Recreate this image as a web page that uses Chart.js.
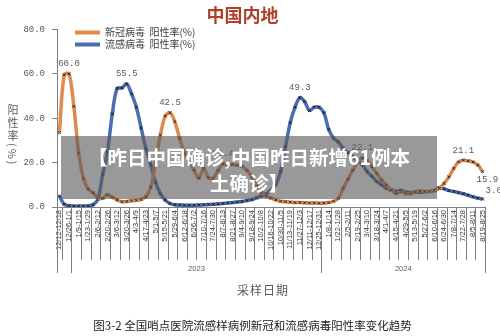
<!DOCTYPE html>
<html>
<head>
<meta charset="utf-8">
<script src="https://cdn.jsdelivr.net/npm/chart.js@4.4.1/dist/chart.umd.min.js"></script>
<style>
body { margin: 0; background: #fff; }
#wrap { position: relative; width: 500px; height: 336px; overflow: hidden; }
#ytitle { position: absolute; left: 5px; top: 104px; writing-mode: vertical-rl; font: 11px 'Noto Sans CJK SC', sans-serif; color: #595959; letter-spacing: 2px; }
#xtitle { position: absolute; left: 237px; top: 281px; font: 12px 'Noto Sans CJK SC', sans-serif; color: #595959; letter-spacing: 1px; }
#banner { position: absolute; left: 61px; top: 136px; width: 376px; height: 63px; background: rgba(90, 90, 90, 0.62); color: #fff; font: bold 19.5px 'Noto Sans CJK SC', sans-serif; line-height: 26px; text-align: center; padding-top: 8px; box-sizing: border-box; }
#caption { position: absolute; left: 0; width: 505px; top: 317px; text-align: center; font: 11.5px 'Noto Sans CJK SC', sans-serif; color: #222; }
</style>
</head>
<body>
<div id="wrap">
  <canvas id="myChart" width="500" height="336"></canvas>
  <div id="ytitle">阳性率(%)</div>
  <div id="xtitle">采样日期</div>
  <div id="banner">【昨日中国确诊,中国昨日新增61例本<br>土确诊】</div>
  <div id="caption">图3-2 全国哨点医院流感样病例新冠和流感病毒阳性率变化趋势</div>
</div>
<script>
// weekly sampling periods, 2022-12-12 .. 2024-08-25
var weeks = [
  "12/12-12/18","12/19-12/25","12/26-1/1","1/2-1/8","1/9-1/15","1/16-1/22","1/23-1/29","1/30-2/5",
  "2/6-2/12","2/13-2/19","2/20-2/26","2/27-3/5","3/6-3/12","3/13-3/19","3/20-3/26","3/27-4/2",
  "4/3-4/9","4/10-4/16","4/17-4/23","4/24-4/30","5/1-5/7","5/8-5/14","5/15-5/21","5/22-5/28",
  "5/29-6/4","6/5-6/11","6/12-6/18","6/19-6/25","6/26-7/2","7/3-7/9","7/10-7/16","7/17-7/23",
  "7/24-7/30","7/31-8/6","8/7-8/13","8/14-8/20","8/21-8/27","8/28-9/3","9/4-9/10","9/11-9/17",
  "9/18-9/24","9/25-10/1","10/2-10/8","10/9-10/15","10/16-10/22","10/23-10/29","10/30-11/5","11/6-11/12",
  "11/13-11/19","11/20-11/26","11/27-12/3","12/4-12/10","12/11-12/17","12/18-12/24","12/25-12/31","1/1-1/7",
  "1/8-1/14","1/15-1/21","1/22-1/28","1/29-2/4","2/5-2/11","2/12-2/18","2/19-2/25","2/26-3/3",
  "3/4-3/10","3/11-3/17","3/18-3/24","3/25-3/31","4/1-4/7","4/8-4/14","4/15-4/21","4/22-4/28",
  "4/29-5/5","5/6-5/12","5/13-5/19","5/20-5/26","5/27-6/2","6/3-6/9","6/10-6/16","6/17-6/23",
  "6/24-6/30","7/1-7/7","7/8-7/14","7/15-7/21","7/22-7/28","7/29-8/4","8/5-8/11","8/12-8/18",
  "8/19-8/25"
];

// 新冠病毒 阳性率(%)
var covid = [
  33.5, 59.6, 60.0, 45.4, 24.4, 12.9, 8.1, 6.4, 4.2, 3.9,
  5.5, 4.4, 3.2, 2.4, 2.5, 2.8, 3.0, 3.4, 4.6, 9.0,
  20.5, 32.5, 41.0, 42.5, 38.5, 31.0, 24.5, 20.5, 16.6, 13.0,
  17.4, 13.2, 13.0, 16.5, 19.4, 18.9, 19.2, 18.8, 18.4, 16.5,
  13.5, 9.5, 6.5, 5.0, 4.0, 3.2, 2.6, 2.4, 2.2, 2.0,
  2.0, 1.9, 1.8, 1.8, 1.7, 1.8, 2.0, 2.6, 3.9, 8.4,
  12.5, 16.5, 20.0, 22.1, 21.0, 18.1, 15.1, 12.1, 9.9, 7.6,
  6.1, 6.9, 6.1, 6.0, 6.8, 7.2, 7.0, 7.0, 7.3, 8.4,
  10.6, 13.6, 17.4, 20.3, 21.1, 20.8, 20.3, 18.9, 15.9
];

// 流感病毒 阳性率(%)
var flu = [
  5.0, 1.2, 0.6, 0.4, 0.4, 0.4, 0.5, 1.0, 3.5, 14.7,
  25.0, 42.0, 53.5, 53.7, 55.5, 51.0, 45.0, 35.6, 26.3, 19.0,
  11.0, 6.0, 3.1, 1.6, 1.0, 0.9, 0.8, 0.8, 0.8, 0.9,
  1.0, 1.1, 1.2, 1.4, 1.6, 1.8, 2.0, 2.3, 2.5, 2.9,
  3.3, 4.1, 5.0, 6.0, 7.5, 10.0, 16.0, 27.0, 38.0, 45.0,
  49.3, 47.5, 43.5, 45.0, 45.0, 42.5, 35.0, 31.0, 29.3, 26.5,
  24.5, 22.8, 21.0, 19.0, 16.0, 13.8, 11.5, 10.0, 8.5, 7.7,
  7.0, 7.5, 6.8, 6.5, 6.8, 6.6, 6.9, 7.0, 7.5, 8.8,
  8.2, 7.4, 7.0, 6.5, 6.0, 5.3, 4.6, 4.0, 3.6
];

// points carrying a value label
var covidLabelAt = [2, 23, 34, 63, 84, 88];
var fluLabelAt = [14, 50, 88];

var yTicks = [0, 20, 40, 60, 80];

// year groups on the category axis: [label, first week, end (exclusive)]
var years = [["2023", 3, 55], ["2024", 55, 89]];

var orange = '#E08A4E';
var blue = '#4A6DB3';

var valueLabels = {
  id: 'valueLabels',
  afterDatasetsDraw: function(chart) {
    var ctx = chart.ctx;
    ctx.save();
    ctx.font = "9px 'Liberation Mono', monospace";
    ctx.fillStyle = '#595959';
    ctx.textBaseline = 'middle';
    var last = weeks.length - 1;
    [[0, covid, covidLabelAt], [1, flu, fluLabelAt]].forEach(function(s) {
      var pts = chart.getDatasetMeta(s[0]).data;
      s[2].forEach(function(i) {
        var p = pts[i];
        var txt = s[1][i].toFixed(1);
        if (i === last) {
          ctx.textAlign = 'left';
          if (s[0] === 0) ctx.fillText(txt, p.x - 6, p.y + 8);
          else ctx.fillText(txt, p.x + 3, p.y - 8);
        } else {
          ctx.textAlign = 'center';
          ctx.fillText(txt, p.x, p.y - 10);
        }
      });
    });
    ctx.restore();
  }
};

// cell lines and year groups below the category axis
var axisCells = {
  id: 'axisCells',
  afterDraw: function(chart) {
    var x = chart.scales.x;
    var ctx = chart.ctx;
    var bottom = chart.chartArea.bottom;
    var half = (x.getPixelForValue(1) - x.getPixelForValue(0)) / 2;
    var edge = function(b) { return x.getPixelForValue(b) - half; };
    var longOnes = [0, weeks.length];
    years.forEach(function(y) { longOnes.push(y[1]); });
    ctx.save();
    ctx.strokeStyle = '#7f7f7f';
    ctx.lineWidth = 1;
    for (var b = 0; b <= weeks.length; b++) {
      var isLong = longOnes.indexOf(b) >= 0;
      if (!isLong && b % 2 === 0) continue;
      var px = Math.round(edge(b)) + 0.5;
      ctx.beginPath();
      ctx.moveTo(px, bottom);
      ctx.lineTo(px, bottom + (isLong ? 66 : 53));
      ctx.stroke();
    }
    ctx.fillStyle = '#595959';
    ctx.font = "7.5px 'Liberation Sans', sans-serif";
    ctx.textAlign = 'center';
    ctx.textBaseline = 'middle';
    years.forEach(function(y) {
      ctx.fillText(y[0], (edge(y[1]) + edge(y[2])) / 2, bottom + 62);
    });
    ctx.restore();
  }
};

// legend sits inside the plot, near its top-left corner
var legendMove = {
  id: 'legendMove',
  afterLayout: function(chart) {
    var lg = chart.legend;
    var area = chart.chartArea;
    var w = lg.right - lg.left;
    lg.left = area.left + 16; lg.right = lg.left + w;
    lg.top = area.top - 4; lg.bottom = area.bottom;
  }
};

Chart.defaults.font.family = "'Noto Sans CJK SC', 'Noto Sans', sans-serif";

var ctx = document.getElementById('myChart').getContext('2d');
var chart = new Chart(ctx, {
  type: 'line',
  data: {
    labels: weeks,
    datasets: [{
      label: '新冠病毒  阳性率(%)',
      data: covid,
      borderColor: orange,
      backgroundColor: orange,
      borderWidth: 3.5,
      tension: 0.35,
      pointStyle: 'crossRot',
      pointRadius: 2,
      pointBorderWidth: 1,
      pointBorderColor: '#2a2a2a',
      pointBackgroundColor: '#2a2a2a'
    }, {
      label: '流感病毒  阳性率(%)',
      data: flu,
      borderColor: blue,
      backgroundColor: blue,
      borderWidth: 3.5,
      tension: 0.35,
      pointStyle: 'crossRot',
      pointRadius: 2,
      pointBorderWidth: 1,
      pointBorderColor: '#1a1a1a',
      pointBackgroundColor: '#1a1a1a'
    }]
  },
  options: {
    responsive: false,
    animation: false,
    layout: { padding: { top: 1, right: 15, left: 0, bottom: 0 } },
    plugins: {
      title: {
        display: true,
        text: '中国内地',
        color: '#B0402A',
        font: { size: 18, weight: 'bold' },
        padding: { top: 3, bottom: 4 }
      },
      legend: {
        position: 'chartArea',
        align: 'start',
        labels: {
          boxWidth: 25,
          boxHeight: 4,
          padding: 2,
          color: '#404040',
          font: { size: 10 },
          generateLabels: function(c) {
            var items = Chart.defaults.plugins.legend.labels.generateLabels(c);
            items.forEach(function(it) { it.lineWidth = 0; it.fillStyle = it.strokeStyle; });
            return items;
          }
        }
      },
      tooltip: { enabled: false }
    },
    scales: {
      x: {
        offset: true,
        grid: { display: false, drawTicks: false },
        border: { color: '#7f7f7f' },
        ticks: {
          autoSkip: false,
          minRotation: 90,
          maxRotation: 90,
          padding: 3,
          color: '#333333',
          font: { size: 7.5, family: "'Liberation Sans', sans-serif" },
          callback: function(v, i) { return i % 2 === 0 ? this.getLabelForValue(v) : ''; }
        },
        afterFit: function(s) { s.height = 129; }
      },
      y: {
        min: yTicks[0],
        max: yTicks[yTicks.length - 1],
        afterBuildTicks: function(s) { s.ticks = yTicks.map(function(v) { return { value: v }; }); },
        grid: { drawOnChartArea: false, tickLength: 5, color: '#7f7f7f' },
        border: { color: '#7f7f7f' },
        ticks: {
          padding: 7,
          color: '#595959',
          font: { size: 9, family: "'Liberation Mono', monospace" },
          callback: function(v) { return v.toFixed(1); }
        },
        afterFit: function(s) { s.width = 57; }
      }
    }
  },
  plugins: [valueLabels, axisCells, legendMove]
});
</script>
</body>
</html>
